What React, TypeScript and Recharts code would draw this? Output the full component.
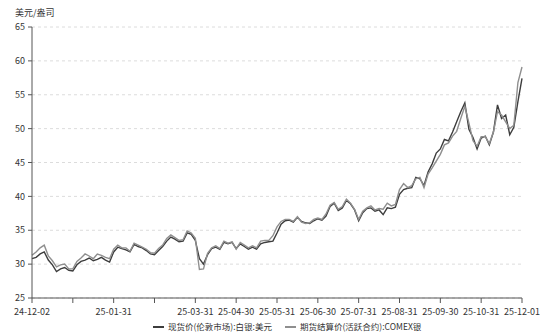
import React from 'react';
import { LineChart, Line, XAxis, YAxis, CartesianGrid } from 'recharts';

const xTickLabels = ['24-12-02', '', '25-01-31', '', '25-03-31', '25-04-30', '25-05-31', '25-06-30', '25-07-31', '25-08-31', '25-09-30', '25-10-31', '25-12-01'];
const yTicks = [25, 30, 35, 40, 45, 50, 55, 60, 65];

const spotName = '现货价(伦敦市场):白银:美元';
const futuresName = '期货结算价(活跃合约):COMEX银';

const spot = [
  30.8, 31.0, 31.5, 31.8, 30.6, 29.9, 28.9, 29.3, 29.5, 29.1,
  29.0, 29.9, 30.4, 30.6, 30.9, 30.5, 30.7, 31.0, 30.6, 30.3,
  31.8, 32.5, 32.3, 32.1, 31.8, 32.9, 32.6, 32.4, 32.0, 31.5,
  31.4, 32.0, 32.6, 33.4, 34.0, 33.7, 33.3, 33.4, 34.6, 34.4,
  33.5, 30.8, 30.0, 31.4, 32.3, 32.5, 32.2, 33.2, 33.0, 33.2,
  32.3, 33.0, 32.6, 32.2, 32.5, 32.2, 33.0, 33.2, 33.3, 33.4,
  34.6, 35.9, 36.4, 36.5, 36.2, 36.9, 36.3, 36.1, 36.0, 36.4,
  36.7, 36.5, 37.1, 38.5, 39.0, 37.9, 38.3, 39.4, 38.9, 38.0,
  36.4, 37.6, 38.2, 38.3, 37.8, 38.0, 37.3, 38.3, 38.2, 38.4,
  40.3, 41.0, 41.2, 41.3, 42.8, 42.6, 41.6, 43.6, 44.8, 46.4,
  47.0, 48.4, 48.2, 49.5, 51.0, 52.5, 53.8, 49.9, 48.7, 47.0,
  48.6, 48.9, 47.6, 49.5, 53.5, 51.5, 52.0, 49.1, 50.2, 54.0,
  57.4,
];

const futures = [
  31.3, 31.8, 32.4, 32.8, 31.2, 30.5, 29.6, 29.9, 30.0, 29.3,
  29.3, 30.4, 30.9, 31.5, 31.2, 30.8, 31.5, 31.3, 31.0, 30.8,
  32.2, 32.8, 32.4, 32.4, 31.9, 33.1, 32.8, 32.5, 32.2, 31.7,
  31.6, 32.3, 32.8, 33.8, 34.3, 33.9, 33.5, 33.6, 34.9, 34.6,
  33.8, 29.2, 29.3, 31.6, 32.4, 32.7, 32.3, 33.4, 33.1, 33.3,
  32.2, 33.2, 32.8, 32.4, 32.7, 32.4, 33.4, 33.5, 33.5, 34.2,
  35.5, 36.3, 36.6, 36.6, 36.3, 37.0, 36.2, 36.0, 36.1, 36.6,
  36.8, 36.6, 37.4, 38.7, 39.1, 38.1, 38.5, 39.6, 39.0, 38.1,
  36.6, 37.8, 38.3, 38.6, 38.0, 38.2, 38.1, 39.0, 38.6, 38.8,
  41.0, 41.9, 41.3, 41.6, 42.6, 42.8, 41.3, 43.3, 44.2, 45.2,
  46.2, 47.6, 47.9, 48.9, 49.6, 51.5, 53.3, 50.8, 48.2, 47.4,
  48.8, 48.8, 47.8, 49.5, 52.5, 52.0, 51.0, 50.0, 50.5, 56.8,
  59.1,
];

const data = spot.map((v, i) => ({ i, spot: v, futures: futures[i] }));
const xTicks = xTickLabels.map((_, k) => k * 10);

const font = '"Noto Sans CJK SC", "Noto Sans", sans-serif';
const spotColor = '#3d3d3d';
const futColor = '#8f8f8f';

export default function App() {
  return (
    <div style={{ position: 'absolute', left: 0, top: 0, width: 554, height: 333, background: '#fff', fontFamily: font }}>
      <div style={{ position: 'absolute', left: 15, top: 7, fontSize: 9, color: '#333', fontFamily: font, lineHeight: '12px' }}>
        美元/盎司
      </div>
      <LineChart width={554} height={333} data={data} margin={{ top: 27, right: 32, bottom: 15, left: 0 }}>
        <CartesianGrid vertical={false} strokeDasharray="3 3" stroke="#dcdcdc" />
        <XAxis
          type="number"
          dataKey="i"
          domain={[0, 120]}
          ticks={xTicks}
          interval={0}
          tickFormatter={(v: number) => xTickLabels[Math.round(v / 10)]}
          height={20}
          tickSize={5}
          tickMargin={6}
          stroke="#555"
          tick={{ fontSize: 9, fill: '#333', fontFamily: font }}
        />
        <YAxis
          domain={[25, 65]}
          ticks={yTicks}
          interval={0}
          width={32}
          tickSize={4}
          tickMargin={3}
          stroke="#555"
          tick={{ fontSize: 9, fill: '#333', fontFamily: font }}
        />
        <Line type="linear" dataKey="spot" name={spotName} stroke={spotColor} strokeWidth={1.4} dot={false} isAnimationActive={false} />
        <Line type="linear" dataKey="futures" name={futuresName} stroke={futColor} strokeWidth={1.4} dot={false} isAnimationActive={false} />
      </LineChart>
      <div style={{ position: 'absolute', left: 0, top: 320, width: 554, height: 12, fontSize: 8.5, color: '#333', fontFamily: font, lineHeight: '12px' }}>
        <div style={{ position: 'absolute', left: 153, top: 6, width: 11, height: 2, background: spotColor }} />
        <div style={{ position: 'absolute', left: 168, top: 0, whiteSpace: 'nowrap' }}>{spotName}</div>
        <div style={{ position: 'absolute', left: 285, top: 6, width: 11, height: 2, background: futColor }} />
        <div style={{ position: 'absolute', left: 300, top: 0, whiteSpace: 'nowrap' }}>{futuresName}</div>
      </div>
    </div>
  );
}
